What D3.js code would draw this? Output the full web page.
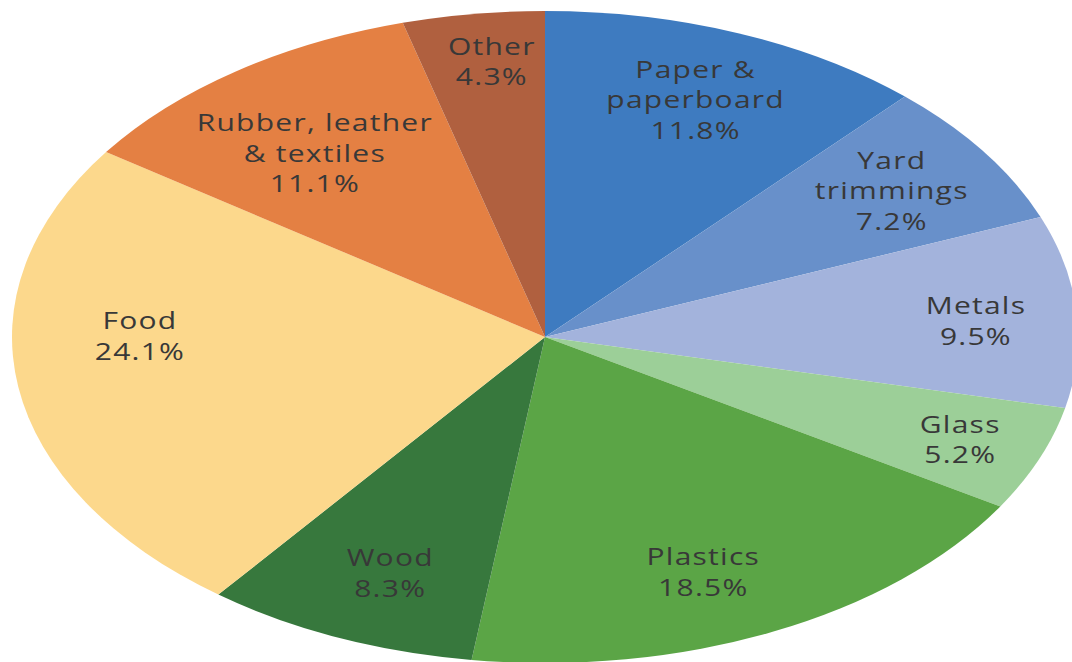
<!DOCTYPE html>
<html><head><meta charset="utf-8">
<script src="https://cdn.jsdelivr.net/npm/d3@7"></script>
<style>html,body{margin:0;padding:0;background:#fff;}svg{display:block;}</style>
</head><body>
<svg id="chart" width="1072" height="662"></svg>
<script>
const categories = ["Paper &\npaperboard", "Yard\ntrimmings", "Metals", "Glass", "Plastics", "Wood", "Food", "Rubber, leather\n& textiles", "Other"];
const values = [11.8, 7.2, 9.5, 5.2, 18.5, 8.3, 24.1, 11.1, 4.3];
const colors = ["#3e7bc0", "#6890ca", "#a3b3dc", "#9ccf98", "#5ba546", "#37783d", "#fcd88c", "#e48043", "#b0603f"];

// label placement tweaks (angle offset in degrees, radius fraction)
const labelAngleNudge = [0, 0, 1, 0, 3, -1, 9, -2, 1];
const labelRadius = [0.78, 0.79, 0.81, 0.84, 0.78, 0.78, 0.76, 0.71, 0.85];

const W = 1072, H = 662;
const cx = 545, cy = 337, rx = 533, ry = 326;
const svg = d3.select("#chart");

const data = categories.map((c, i) => ({name: c, value: values[i], color: colors[i], i}));
const pie = d3.pie().value(d => d.value).sort(null);
const arcs = pie(data);
const arc = d3.arc().innerRadius(0).outerRadius(ry);

const g = svg.append("g").attr("transform", `translate(${cx},${cy}) scale(${rx/ry},1)`);
g.selectAll("path").data(arcs).join("path")
  .attr("d", arc)
  .attr("fill", d => d.data.color);

const lines = 30.5;
const labels = svg.append("g");
arcs.forEach(a => {
  const i = a.data.i;
  const mid = (a.startAngle + a.endAngle) / 2 + labelAngleNudge[i] * Math.PI / 180;
  const r = labelRadius[i];
  const x = cx + Math.sin(mid) * r * rx;
  const y = cy - Math.cos(mid) * r * ry;
  const txt = a.data.name.split("\n").concat([d3.format(".1f")(a.data.value) + "%"]);
  const n = txt.length;
  const t = labels.append("text")
    .attr("transform", `translate(${x},${y}) scale(1.25,1)`)
    .attr("text-anchor", "middle")
    .attr("font-family", "'Open Sans', 'Noto Sans', sans-serif")
    .attr("font-size", 24)
    .attr("letter-spacing", 1)
    .attr("fill", "#383838");
  txt.forEach((s, k) => {
    t.append("tspan").attr("x", 0)
      .attr("y", (k - (n - 1) / 2) * lines)
      .attr("dy", "0.35em")
      .text(s);
  });
});
</script>
</body></html>
